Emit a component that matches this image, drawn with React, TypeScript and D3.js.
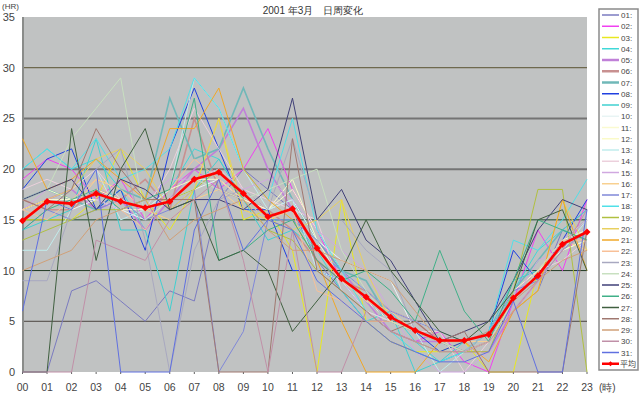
import React from "react";
import * as d3 from "d3";

const hours = ["00","01","02","03","04","05","06","07","08","09","10","11","12","13","14","15","16","17","18","19","20","21","22","23"];
const yTicks = [0, 5, 10, 15, 20, 25, 30, 35];
const seriesNames = ["01:","02:","03:","04:","05:","06:","07:","08:","09:","10:","11:","12:","13:","14:","15:","16:","17:","18:","19:","20:","21:","22:","23:","24:","25:","26:","27:","28:","29:","30:","31:"];
const seriesColors = ["#7b7bc0","#f040f0","#e8e820","#40d8d8","#c080d8","#c89090","#70b8b8","#2040e0","#40d0d0","#e8f4f4","#fafad0","#fafac8","#c0ecec","#ecd0dc","#d0a8e0","#f8d090","#8088d8","#50e0e8","#b0c040","#e8d060","#f0a828","#f8c098","#a8a8c0","#c8e0c0","#404078","#40b088","#406040","#a07870","#d0a078","#c090a8","#6070e0"];
const thickSeries = [4, 5, 6];

const d01 = [0,0,8,9,7,5,8,7,17,20,18,16,11,8,5,3,2,1,2,3,6,8,14,16];
const d02 = [19,21,20,17,19,15,18,20,18,20,24,18,14,9,6,4,3,4,1,0,7,14,10,17];
const d03 = [15,15,15,17,22,17,14,18,25,15,16,12,0,17,5,3,2,2,3,0,0,10,12,14];
const d04 = [20,22,20,21,18,14,18,22,21,17,15,15,12,8,5,6,3,1,2,3,8,12,14,16];
const d05 = [16,17,18,16,17,14,17,20,22,26,20,16,12,10,7,4,3,3,2,2,6,9,13,15];
const d06 = [17,16,16,18,17,19,16,25,18,17,16,14,11,9,8,6,5,3,2,3,7,10,12,14];
const d07 = [17,18,17,16,18,17,27,21,22,28,22,17,13,10,9,5,4,3,2,4,8,11,14,13];
const d08 = [18,21,22,16,18,12,22,28,22,16,16,10,10,9,7,5,4,2,3,4,12,9,13,17];
const d09 = [14,15,16,23,14,14,6,18,21,17,13,14,12,10,8,6,0,1,3,4,9,10,12,14];
const d10 = [16,17,16,17,16,15,17,18,19,17,16,17,13,11,10,9,4,3,2,4,7,9,12,13];
const d11 = [16,17,17,17,16,16,17,19,19,17,16,18,14,10,8,6,5,4,3,4,7,10,13,14];
const d12 = [17,18,17,18,17,16,18,19,20,18,16,19,13,9,7,5,4,3,3,4,8,10,12,13];
const d13 = [12,12,16,20,15,16,18,29,26,20,16,17,10,9,6,5,4,0,2,4,7,9,12,15];
const d14 = [18,19,18,20,17,16,20,26,22,18,17,16,15,8,6,5,4,4,0,3,7,10,11,13];
const d15 = [16,18,19,17,16,17,19,19,20,18,19,17,14,12,10,6,2,0,0,2,7,11,12,14];
const d16 = [15,17,16,19,18,16,15,17,18,16,15,16,12,9,7,6,4,3,3,3,6,9,13,12];
const d17 = [14,16,15,16,17,15,16,18,0,4,15,15,13,10,8,6,5,4,3,4,8,9,12,14];
const d18 = [20,22,20,23,19,20,22,29,26,20,17,25,14,10,6,4,2,1,2,4,13,12,15,19];
const d19 = [13,14,15,16,16,17,17,18,20,17,14,13,10,8,6,4,3,2,2,2,8,18,18,0];
const d20 = [16,17,18,21,22,20,16,18,25,16,15,14,15,17,10,5,4,3,2,3,6,8,17,12];
const d21 = [23,18,19,21,19,17,24,24,28,20,17,15,11,5,0,0,0,3,3,1,6,8,17,10];
const d22 = [16,15,17,19,16,14,18,21,19,17,15,16,8,7,5,5,4,3,2,3,7,10,13,13];
const d23 = [9,9,16,20,22,13,0,12,17,18,16,23,15,15,12,10,4,3,2,4,7,9,12,14];
const d24 = [17,18,23,26,29,15,17,19,18,17,18,19,20,12,8,5,4,3,2,3,7,10,13,15];
const d25 = [17,18,19,16,19,18,16,17,17,16,18,27,15,18,13,11,7,3,4,5,9,14,17,16];
const d26 = [14,16,17,18,16,17,18,27,11,12,14,15,11,9,10,8,5,12,6,3,9,15,14,13];
const d27 = [0,0,24,11,20,24,16,17,11,12,10,4,7,10,15,10,7,4,3,5,8,15,16,10];
const d28 = [17,16,18,24,20,17,17,17,0,0,0,23,10,8,6,4,5,3,4,0,0,0,0,14];
const d29 = [10,11,12,15,16,17,13,15,16,17,14,12,12,11,10,9,6,3,3,4,7,9,11,12];
const d30 = [0,0,0,13,12,11,15,17,19,11,0,14,0,0,6,4,3,2,2,3,6,9,12,16];
const d31 = [6,17,16,20,0,0,0,14,19,12,15,14,9,7,5,3,2,1,1,2,7,0,0,16];
const average = [14.9,16.8,16.6,17.6,16.8,16.2,16.8,19.0,19.7,17.6,15.3,16.1,12.2,9.2,7.4,5.4,4.1,3.1,3.1,3.7,7.3,9.5,12.6,13.8];

const allSeries = [d01,d02,d03,d04,d05,d06,d07,d08,d09,d10,d11,d12,d13,d14,d15,d16,d17,d18,d19,d20,d21,d22,d23,d24,d25,d26,d27,d28,d29,d30,d31];

const gridStyles: Record<number, { color: string; width: number }> = {
  5: { color: "#4c4640", width: 1 },
  10: { color: "#203a24", width: 1 },
  15: { color: "#1e4a2c", width: 1 },
  20: { color: "#747474", width: 2 },
  25: { color: "#747474", width: 2 },
  30: { color: "#5a5230", width: 1 },
};

export default function App() {
  const W = 640, H = 395;
  const left = 23, right = 587, top = 17, bottom = 372;
  const x = d3.scaleLinear().domain([0, 23]).range([left - 0.5, right]);
  const y = d3.scaleLinear().domain([0, 35]).range([bottom, top]);
  const line = d3.line<number>().x((_, i) => x(i)).y((v) => y(v));
  const font = "'Liberation Sans', Arial, sans-serif";
  const legX = 599, legTop = 9, legStep = 11.25;

  return (
    <div style={{ position: "fixed", left: 0, top: 0 }}>
      <svg width={W} height={H} style={{ display: "block", background: "#fff" }} fontFamily={font}>
        <rect x={left} y={top} width={right - left} height={bottom - top} fill="#c0c2c2" />
        {yTicks.filter((t) => gridStyles[t]).map((t) => (
          <line key={t} x1={left} x2={right} y1={y(t)} y2={y(t)} stroke={gridStyles[t].color} strokeWidth={gridStyles[t].width} />
        ))}
        <line x1={left} x2={left} y1={top} y2={bottom} stroke="#8a8c8a" strokeWidth={2} />
        {hours.map((h, i) => (
          <line key={h} x1={x(i)} x2={x(i)} y1={bottom} y2={bottom + 2} stroke="#606060" strokeWidth={1} />
        ))}
        {allSeries.map((s, i) => (
          <path key={i} d={line(s) || ""} fill="none" stroke={seriesColors[i]} strokeWidth={thickSeries.includes(i) ? 1.6 : 1} />
        ))}
        <path d={line(average) || ""} fill="none" stroke="#ff0000" strokeWidth={2.6} strokeLinejoin="round" />
        {average.map((v, i) => (
          <path key={i} d={`M${x(i)},${y(v) - 3.5}L${x(i) + 3.5},${y(v)}L${x(i)},${y(v) + 3.5}L${x(i) - 3.5},${y(v)}Z`} fill="#ff0000" />
        ))}
        {yTicks.map((t) => (
          <text key={t} x={15} y={y(t) + 4} fontSize={11} fill="#444" textAnchor="end">{t}</text>
        ))}
        {hours.map((h, i) => (
          <text key={h} x={x(i)} y={391} fontSize={10.5} fill="#444" textAnchor="middle">{h}</text>
        ))}
        <text x={599} y={391} fontSize={10} fill="#444">(時)</text>
        <text x={2} y={9} fontSize={8} fill="#444">(HR)</text>
        <text x={313} y={14} fontSize={10} fill="#333" textAnchor="middle">2001 年3月　日周変化</text>
        <rect x={legX} y={legTop} width={39} height={361} fill="#fff" stroke="#8a8a8a" strokeWidth={1.5} />
        {seriesNames.map((n, i) => (
          <g key={n}>
            <line x1={legX + 3} x2={legX + 20} y1={legTop + 6 + i * legStep} y2={legTop + 6 + i * legStep} stroke={seriesColors[i]} strokeWidth={thickSeries.includes(i) ? 2.5 : 1.5} />
            <text x={legX + 22} y={legTop + 9 + i * legStep} fontSize={8} fill="#444">{n}</text>
          </g>
        ))}
        <line x1={legX + 3} x2={legX + 20} y1={legTop + 6 + 31 * legStep} y2={legTop + 6 + 31 * legStep} stroke="#ff0000" strokeWidth={2.5} />
        <path d={`M${legX + 11.5},${legTop + 3.5 + 31 * legStep}L${legX + 14},${legTop + 6 + 31 * legStep}L${legX + 11.5},${legTop + 8.5 + 31 * legStep}L${legX + 9},${legTop + 6 + 31 * legStep}Z`} fill="#ff0000" />
        <text x={legX + 21} y={legTop + 9 + 31 * legStep} fontSize={8} fill="#444" fontFamily="'Noto Sans CJK JP', sans-serif">平均</text>
      </svg>
    </div>
  );
}
